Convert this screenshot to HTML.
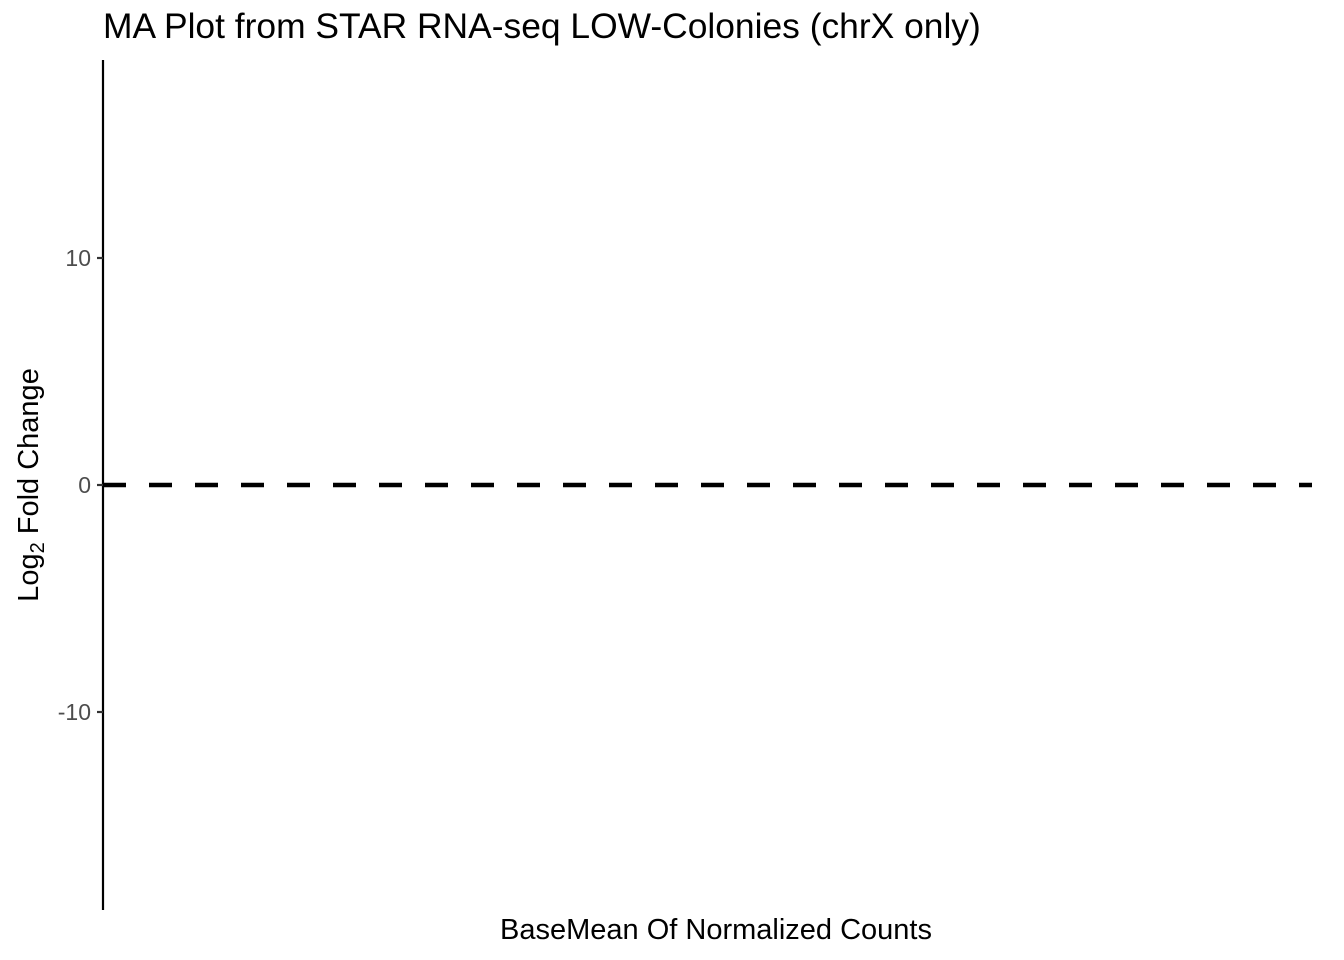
<!DOCTYPE html>
<html><head><meta charset="utf-8"><style>
body{margin:0;background:#fff;}
svg{display:block;font-family:"Liberation Sans",sans-serif;}
</style></head><body>
<svg width="1344" height="960">
<rect width="1344" height="960" fill="#fff"/>
<text x="103" y="38" font-size="35.4" fill="#000">MA Plot from STAR RNA-seq LOW-Colonies (chrX only)</text>
<g id="yaxis"></g>
<line id="zero" stroke="#000" stroke-width="4.5" stroke-dasharray="23,23"/>
<text x="716" y="939" font-size="29" text-anchor="middle" fill="#000">BaseMean Of Normalized Counts</text>
<text transform="translate(38,485) rotate(-90)" font-size="29" text-anchor="middle" fill="#000">Log<tspan font-size="20" dy="6">2</tspan><tspan dy="-6"> Fold Change</tspan></text>
</svg>
<script>
const yTicks=[10,0,-10];
const yTickLabels=["10","0","-10"];
const refValue=[0];
const plotTop=60, plotBottom=910;
function ys(v){return 485-(v)*(712-258)/20;}
const ns="http://www.w3.org/2000/svg";
const g=document.getElementById('yaxis');
const ax=document.createElementNS(ns,'line');


ax.setAttribute('x1',103);ax.setAttribute('x2',103);ax.setAttribute('y1',plotTop);ax.setAttribute('y2',plotBottom);
ax.setAttribute('stroke','#000');ax.setAttribute('stroke-width',2.2);
g.appendChild(ax);
yTicks.forEach((v,i)=>{
 const t=document.createElementNS(ns,'line');
 
 
 t.setAttribute('x1',97);t.setAttribute('x2',103);t.setAttribute('y1',ys(v));t.setAttribute('y2',ys(v));
 t.setAttribute('stroke','#333');t.setAttribute('stroke-width',2.2);
 g.appendChild(t);
 const l=document.createElementNS(ns,'text');
 
 
 l.setAttribute('x',91);l.setAttribute('y',ys(v)+8);l.setAttribute('text-anchor','end');
 l.setAttribute('font-size','23');l.setAttribute('fill','#4d4d4d');
 l.textContent=yTickLabels[i];
 g.appendChild(l);
});
const z=document.getElementById('zero');
z.setAttribute('x1',103);z.setAttribute('x2',1312);
z.setAttribute('y1',ys(refValue[0]));z.setAttribute('y2',ys(refValue[0]));
</script>
</body></html>
